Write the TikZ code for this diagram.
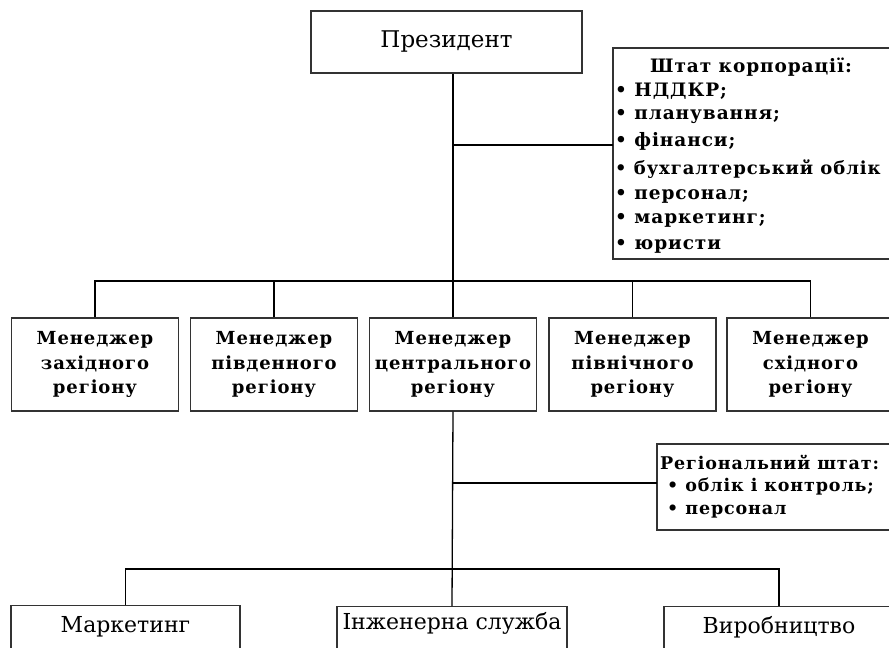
\documentclass[tikz,border=0pt]{standalone}
\usepackage{fontspec}
\setmainfont{DejaVu Serif}
\newfontfamily\spaced[LetterSpace=5,UprightFont=* Bold]{DejaVu Serif}
\begin{document}
\begin{tikzpicture}[x=1pt,y=-1pt,
  box/.style={draw=black!80, line width=1.3pt, rectangle, inner sep=0pt},
  conn/.style={line width=1.3pt, draw=black},
  mgr/.style={box, minimum width=167pt, minimum height=93pt, align=center,
    font=\spaced\fontsize{18}{24.5}\selectfont},
  plain/.style={inner sep=0pt, font=\fontsize{22}{26}\selectfont},
  item/.style={inner sep=0pt, anchor=west, font=\spaced\fontsize{18.5}{24}\selectfont},
  ritem/.style={item, font=\spaced\fontsize{17.5}{24}\selectfont}
]
\newcommand\bl{\textbullet\ }
\useasboundingbox (0,0) rectangle (889,648);
\clip (0,0) rectangle (889,648);

% President
\node[box, minimum width=271pt, minimum height=62pt] (pres) at (446.5,42) {};
\node[plain, font=\fontsize{23}{26}\selectfont] (prest) at (446.5,42) {Президент};

% Corporate staff
\node[box, minimum width=287pt, minimum height=211pt] (corp) at (756.5,153.5) {};
\node[item] (c0) at (650,67) {Штат корпорації:};
\node[item] (c1) at (615,91) {\bl НДДКР;};
\node[item] (c2) at (615,116) {\bl планування;};
\node[item] (c3) at (615,141) {\bl фінанси;};
\node[item, font=\spaced\fontsize{18}{24}\selectfont] (c4) at (615,169) {\bl бухгалтерський облік};
\node[item] (c5) at (615,196) {\bl персонал;};
\node[item] (c6) at (615,220) {\bl маркетинг;};
\node[item] (c7) at (615,246) {\bl юристи};
\coordinate (corpin) at (613,145);

% Managers
\node[mgr] (m1) at (95,364.5) {Менеджер\\західного\\регіону};
\node[mgr] (m2) at (274,364.5) {Менеджер\\південного\\регіону};
\node[mgr] (m3) at (453,364.5) {Менеджер\\центрального\\регіону};
\node[mgr] (m4) at (632.5,364.5) {Менеджер\\північного\\регіону};
\node[mgr] (m5) at (810.5,364.5) {Менеджер\\східного\\регіону};
\coordinate (bus) at (0,281);

% Regional staff
\node[box, minimum width=243pt, minimum height=86pt] (reg) at (778.5,487) {};
\node[ritem] (r0) at (660,462) {Регіональний штат:};
\node[ritem] (r1) at (667,487) {\bl облік і контроль;};
\node[ritem] (r2) at (667,512) {\bl персонал};
\coordinate (regin) at (657,483);

% Bottom departments
\coordinate (bus2) at (0,569);
\node[box, minimum width=229pt, minimum height=80pt, anchor=north] (b1) at (125.5,605) {};
\node[plain] (b1t) at (125.5,627) {Маркетинг};
\node[box, minimum width=230pt, minimum height=80pt, anchor=north] (b2) at (452,606) {};
\node[plain] (b2t) at (452,623) {Інженерна служба};
\node[box, minimum width=230pt, minimum height=80pt, anchor=north] (b3) at (779,606) {};
\node[plain] (b3t) at (779,627) {Виробництво};

% Connectors
\draw[conn] (pres.south -| m3.north) -- (m3.north);
\draw[conn] (m3.north |- corpin) -- (corpin);
\draw[conn] (m1.north) |- (bus -| m5.north) -- (m5.north);
\draw[conn] (m2.north) -- (m2.north |- bus);
\draw[conn] (m4.north) -- (m4.north |- bus);
\draw[conn] (m3.south) -- (b2.north);
\draw[conn] (m3.south |- regin) -- (regin);
\draw[conn] (b1.north) |- (bus2 -| b3.north) -- (b3.north);
\end{tikzpicture}
\end{document}
